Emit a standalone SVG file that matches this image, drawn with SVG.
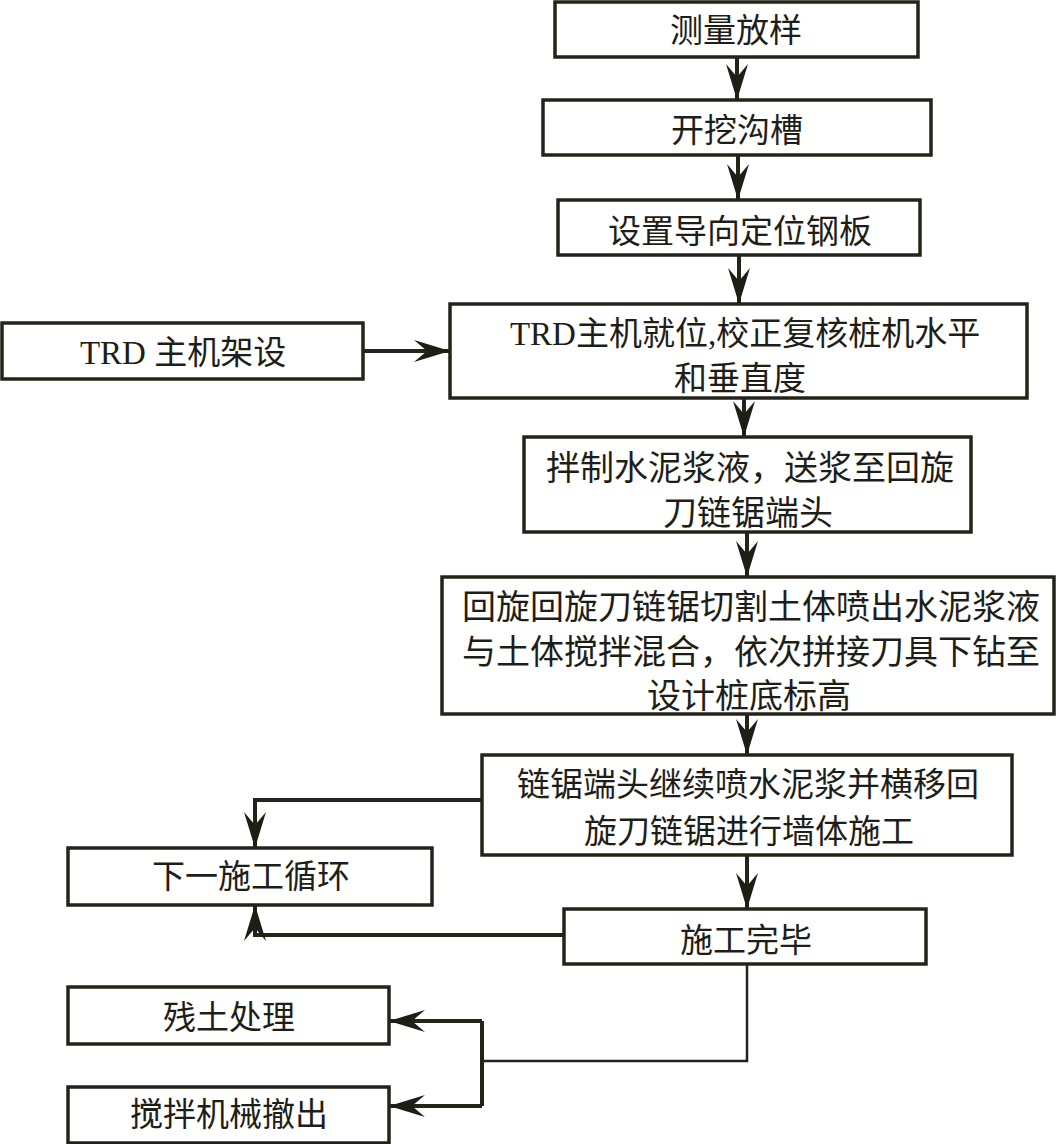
<svg xmlns="http://www.w3.org/2000/svg" width="1056" height="1144" viewBox="0 0 1056 1144">
<style>
.box{fill:#fff;stroke:#24231a;stroke-width:3.5}
.t{font-family:"Liberation Serif","Noto Sans CJK SC",serif;font-size:33px;fill:#1e1e18;text-anchor:middle}
.b{font-size:34px}
.c{fill:none;stroke:#24231a;stroke-width:4}
.thin{fill:none;stroke:#24231a;stroke-width:2.5}
</style>
<defs>
<marker id="ah" markerUnits="userSpaceOnUse" markerWidth="40" markerHeight="26" refX="36" refY="11" orient="auto">
<path d="M0,0 L36,11 L0,22 L13,11 z" fill="#1e1e14"/>
</marker>
</defs>
<rect width="1056" height="1144" fill="#fff"/>
<g id="connectors">
<line class="c" x1="737" y1="57" x2="737" y2="100" marker-end="url(#ah)"/>
<line class="c" x1="738" y1="155" x2="738" y2="200" marker-end="url(#ah)"/>
<line class="c" x1="739" y1="255" x2="739" y2="304" marker-end="url(#ah)"/>
<line class="c" x1="363" y1="351" x2="450" y2="351" marker-end="url(#ah)"/>
<line class="c" x1="744" y1="398" x2="744" y2="437" marker-end="url(#ah)"/>
<line class="c" x1="747" y1="532" x2="747" y2="577" marker-end="url(#ah)"/>
<line class="c" x1="747" y1="714" x2="747" y2="755" marker-end="url(#ah)"/>
<line class="c" x1="747" y1="855" x2="747" y2="909" marker-end="url(#ah)"/>
<polyline class="c" points="482,800 255,800 255,848" marker-end="url(#ah)"/>
<polyline class="c" points="564,935 255,935 255,905" marker-end="url(#ah)"/>
<polyline class="thin" points="747,964 747,1061 482,1061"/>
<polyline class="c" points="482,1021 482,1106"/>
<line class="c" x1="482" y1="1021" x2="389" y2="1021" marker-end="url(#ah)"/>
<line class="c" x1="482" y1="1106" x2="389" y2="1106" marker-end="url(#ah)"/>
</g>
<g id="n1"><rect class="box" x="555" y="2" width="363" height="55"/><text class="t" x="736" y="42">测量放样</text></g>
<g id="n2"><rect class="box" x="543" y="100" width="388" height="55"/><text class="t" x="737" y="142">开挖沟槽</text></g>
<g id="n3"><rect class="box" x="558" y="200" width="362" height="55"/><text class="t" x="740" y="243">设置导向定位钢板</text></g>
<g id="n0"><rect class="box" x="2" y="323" width="361" height="56"/><text class="t" x="183" y="364">TRD 主机架设</text></g>
<g id="n4"><rect class="box" x="450" y="304" width="577" height="94"/><text class="t" x="745" y="345">TRD主机就位,校正复核桩机水平</text><text class="t" x="740" y="390">和垂直度</text></g>
<g id="n5"><rect class="box" x="524" y="437" width="447" height="95"/><text class="t b" x="750" y="480">拌制水泥浆液，送浆至回旋</text><text class="t b" x="748" y="525">刀链锯端头</text></g>
<g id="n6"><rect class="box" x="442" y="577" width="612" height="137"/><text class="t b" x="751" y="619">回旋回旋刀链锯切割土体喷出水泥浆液</text><text class="t b" x="751" y="664">与土体搅拌混合，依次拼接刀具下钻至</text><text class="t b" x="749" y="708">设计桩底标高</text></g>
<g id="n7"><rect class="box" x="482" y="755" width="530" height="100"/><text class="t" x="748" y="796">链锯端头继续喷水泥浆并横移回</text><text class="t" x="749" y="843">旋刀链锯进行墙体施工</text></g>
<g id="n8"><rect class="box" x="68" y="848" width="364" height="57"/><text class="t" x="251" y="888">下一施工循环</text></g>
<g id="n9"><rect class="box" x="564" y="909" width="362" height="55"/><text class="t" x="746" y="952">施工完毕</text></g>
<g id="n10"><rect class="box" x="68" y="987" width="321" height="57"/><text class="t" x="229" y="1029">残土处理</text></g>
<g id="n11"><rect class="box" x="68" y="1087" width="321" height="56"/><text class="t" x="229" y="1126">搅拌机械撤出</text></g>
</svg>
